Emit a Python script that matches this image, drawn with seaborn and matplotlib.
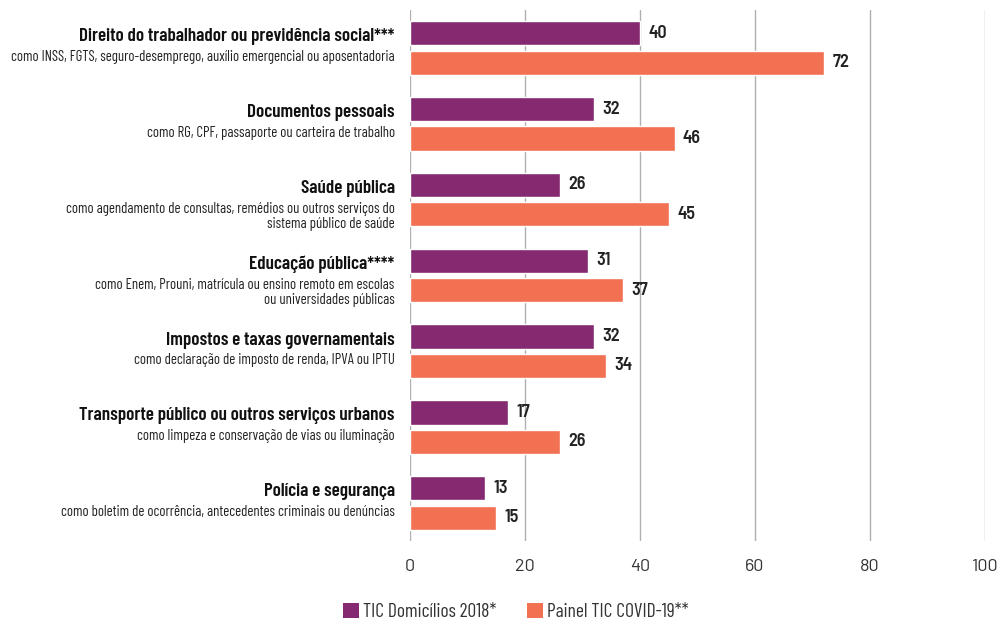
import matplotlib
matplotlib.use("Agg")
import matplotlib.pyplot as plt
from matplotlib.patches import Patch
import seaborn as sns
import pandas as pd

titles = [
    "Direito do trabalhador ou previdência social***",
    "Documentos pessoais",
    "Saúde pública",
    "Educação pública****",
    "Impostos e taxas governamentais",
    "Transporte público ou outros serviços urbanos",
    "Polícia e segurança",
]
subtitles = [
    "como INSS, FGTS, seguro-desemprego, auxílio emergencial ou aposentadoria",
    "como RG, CPF, passaporte ou carteira de trabalho",
    "como agendamento de consultas, remédios ou outros serviços do\nsistema público de saúde",
    "como Enem, Prouni, matrícula ou ensino remoto em escolas\nou universidades públicas",
    "como declaração de imposto de renda, IPVA ou IPTU",
    "como limpeza e conservação de vias ou iluminação",
    "como boletim de ocorrência, antecedentes criminais ou denúncias",
]
series_names = ["TIC Domicílios 2018*", "Painel TIC COVID-19**"]
tic2018 = [40, 32, 26, 31, 32, 17, 13]
covid = [72, 46, 45, 37, 34, 26, 15]
xticks = [0, 20, 40, 60, 80, 100]

colors = ["#852A70", "#F27153"]

sns.set_style("white")
plt.rcParams["font.family"] = ["Barlow Condensed", "DejaVu Sans"]
semi = ["Barlow Semi Condensed", "DejaVu Sans"]
wide = ["Barlow", "DejaVu Sans"]

df = pd.DataFrame({
    "cat": titles * 2,
    "serie": [series_names[0]] * len(titles) + [series_names[1]] * len(titles),
    "valor": tic2018 + covid,
})

fig = plt.figure(figsize=(10, 6.26), dpi=100)
ax = fig.add_axes([0.41, 0.136, 0.575, 0.848])

sns.barplot(data=df, y="cat", x="valor", hue="serie", orient="h",
            palette=colors, width=0.776, gap=0.175, ax=ax, legend=False,
            saturation=1, errorbar=None)

ax.set_xlim(0, 100)
ax.set_ylim(6.5, -0.5)
ax.set_xticks(xticks)
ax.set_xticklabels([str(t) for t in xticks])
for lab in ax.get_xticklabels():
    lab.set_fontfamily(wide)
    lab.set_fontsize(13)
    lab.set_color("#333333")
ax.set_yticks([])
ax.set_xlabel("")
ax.set_ylabel("")
for s in ax.spines.values():
    s.set_visible(False)
ax.grid(axis="x", color="#b0b0b0", linewidth=1)
ax.set_axisbelow(True)
ax.tick_params(axis="x", length=6, color="#b0b0b0", width=1, pad=7)

for cont in ax.containers:
    ax.bar_label(cont, fmt="%d", padding=6, fontsize=13, fontweight="semibold",
                 color="#222222", family=semi)

for i, (t, s) in enumerate(zip(titles, subtitles)):
    ax.annotate(t, xy=(0, i), xycoords=("axes fraction", "data"),
                xytext=(-11, 8), textcoords="offset points",
                ha="right", va="center", fontsize=13.7, fontweight="semibold", color="#111111")
    ax.annotate(s, xy=(0, i), xycoords=("axes fraction", "data"),
                xytext=(-11, -1.5), textcoords="offset points",
                ha="right", va="top", fontsize=10.6, color="#222222", linespacing=1.1)

handles = [Patch(facecolor=c, edgecolor="none") for c in colors]
fig.legend(handles, series_names, loc="center", bbox_to_anchor=(0.516, 0.022),
           ncol=2, frameon=False, fontsize=14, handlelength=0.8, handleheight=0.8,
           handletextpad=0.2, columnspacing=1.6, labelcolor="#333333")

fig.savefig("out.png", dpi=100)
